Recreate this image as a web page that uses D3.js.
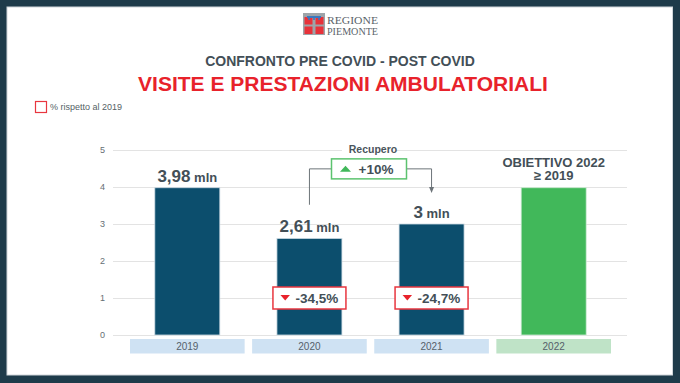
<!DOCTYPE html>
<html><head><meta charset="utf-8">
<script src="https://cdn.jsdelivr.net/npm/d3@7"></script>
<style>html,body{margin:0;padding:0;background:#1e3b4a;}svg{display:block;font-family:"Liberation Sans",Arial,sans-serif;}</style>
</head><body>
<svg id="c" width="680" height="383"></svg>
<script>
const categories = ["2019", "2020", "2021", "2022"];
const values = [3.98, 2.61, 3.0, 3.98];
const valueLabels = ["3,98", "2,61", "3", null];
const pctLabels = [null, "-34,5%", "-24,7%", null];
const yTicks = [0, 1, 2, 3, 4, 5];
const recoveryLabel = "+10%";
const targetLabel = ["OBIETTIVO 2022", "≥ 2019"];

const svg = d3.select("#c");
const gray = "#434f57";
svg.append("rect").attr("width",680).attr("height",383).attr("fill","#1e3b4a");
svg.append("rect").attr("x",7).attr("y",7).attr("width",665.5).attr("height",368).attr("fill","#fff").attr("stroke","#d0d6da").attr("stroke-width",1);

// logo
const lg = svg.append("g").attr("transform","translate(303,13)");
lg.append("rect").attr("width",22).attr("height",22).attr("fill","#9ea4a9");
[[1.5,4],[12.5,4],[1.5,13.5],[12.5,13.5]].forEach(p=>lg.append("rect").attr("x",p[0]).attr("y",p[1]).attr("width",8).attr("height",7.5).attr("fill","#e8323a"));
lg.append("rect").attr("x",4).attr("y",3).attr("width",14).attr("height",2).attr("fill","#3a78c0");
[6,11,16].forEach(x=>lg.append("rect").attr("x",x-0.8).attr("y",4.5).attr("width",1.6).attr("height",2.5).attr("fill","#3a78c0"));
svg.append("text").attr("x",327).attr("y",23.6).attr("font-family","Liberation Serif,serif").attr("font-size",10.4).attr("fill","#5a636a").attr("textLength",51).attr("lengthAdjust","spacingAndGlyphs").text("REGIONE");
svg.append("text").attr("x",327).attr("y",35.2).attr("font-family","Liberation Serif,serif").attr("font-size",10.4).attr("fill","#5a636a").attr("textLength",51).attr("lengthAdjust","spacingAndGlyphs").text("PIEMONTE");

// titles
svg.append("text").attr("x",340).attr("y",66).attr("text-anchor","middle").attr("font-weight","bold").attr("font-size",14).attr("fill",gray).text("CONFRONTO PRE COVID - POST COVID");
svg.append("text").attr("x",343).attr("y",91).attr("text-anchor","middle").attr("font-weight","bold").attr("font-size",21).attr("fill","#e8222b").text("VISITE E PRESTAZIONI AMBULATORIALI");

// legend
svg.append("rect").attr("x",35.5).attr("y",101.5).attr("width",11).attr("height",11).attr("fill","none").attr("stroke","#e8363f").attr("stroke-width",1.2);
svg.append("text").attr("x",50).attr("y",110).attr("font-size",9).attr("fill","#555f66").text("% rispetto al 2019");

// scales
const y = d3.scaleLinear().domain([0,5]).range([335,150]);
const x = d3.scaleBand().domain(categories).range([130,611]).paddingInner(0.0612).paddingOuter(0);
const cx = c => x(c) + x.bandwidth()/2;
const barW = 65;

// grid + axis
const ax = svg.append("g").attr("transform","translate(113,0)")
  .call(d3.axisLeft(y).tickValues(yTicks).tickSize(-514).tickPadding(8).tickFormat(d3.format("d")));
ax.select(".domain").remove();
ax.selectAll(".tick line").attr("stroke","#e3e3e3").attr("stroke-width",1);
ax.selectAll(".tick text").attr("font-size",9).attr("fill","#666e74").attr("font-family","Liberation Sans,Arial,sans-serif");

// category boxes
svg.append("g").selectAll("rect").data(categories).join("rect")
  .attr("x",d=>x(d)).attr("y",339).attr("width",x.bandwidth()).attr("height",14.5)
  .attr("fill",(d,i)=>i===3?"#bfe3c7":"#cfe2f3");
svg.append("g").selectAll("text").data(categories).join("text")
  .attr("x",d=>cx(d)).attr("y",350).attr("text-anchor","middle").attr("font-size",10).attr("fill","#55606a").text(d=>d);

// bars
svg.append("g").selectAll("rect").data(values).join("rect")
  .attr("x",(d,i)=>cx(categories[i])-barW/2).attr("y",d=>y(d)).attr("width",barW).attr("height",d=>y(0)-y(d))
  .attr("fill",(d,i)=>i===3?"#41b85a":"#0c4e6d").attr("stroke",(d,i)=>i===3?"#cdebd4":"#cddbe4").attr("stroke-width",0.8);

// value labels
values.forEach((v,i)=>{
  if(!valueLabels[i]) return;
  const t = svg.append("text").attr("x",cx(categories[i])).attr("y",y(v)-6).attr("text-anchor","middle").attr("font-weight","bold").attr("fill",gray);
  t.append("tspan").attr("font-size",17).text(valueLabels[i]);
  t.append("tspan").attr("font-size",13).text(" mln");
});

// target label
const tl = svg.append("text").attr("x",cx(categories[3])).attr("text-anchor","middle").attr("font-weight","bold").attr("font-size",13).attr("fill",gray);
tl.append("tspan").attr("x",cx(categories[3])).attr("y",y(values[3])-21).text(targetLabel[0]);
tl.append("tspan").attr("x",cx(categories[3])).attr("y",y(values[3])-7.5).text(targetLabel[1]);

// pct boxes
pctLabels.forEach((p,i)=>{
  if(!p) return;
  const c = cx(categories[i]), yc = y(1);
  const g = svg.append("g");
  g.append("rect").attr("x",c-36.5).attr("y",yc-11).attr("width",73).attr("height",22).attr("fill","#fff").attr("stroke","#e8363f").attr("stroke-width",1.5);
  g.append("path").attr("d",`M${c-29},${yc-3} L${c-19.5},${yc-3} L${c-24.25},${yc+2.5}Z`).attr("fill","#e8222b");
  g.append("text").attr("x",c-14).attr("y",yc+4.7).attr("font-weight","bold").attr("font-size",13.5).attr("fill",gray).text(p);
});

// recovery connector
const c1 = cx(categories[1]), c2 = cx(categories[2]);
const mid = (c1+c2)/2 - 1.5;
const ry = y(4.49);
const lineCol = "#6d7479";
svg.append("path").attr("d",`M${c1},${y(3.52)} V${ry} H${mid-37}`).attr("fill","none").attr("stroke",lineCol).attr("stroke-width",1);
svg.append("path").attr("d",`M${mid+37},${ry} H${c2} V${y(3.97)}`).attr("fill","none").attr("stroke",lineCol).attr("stroke-width",1);
svg.append("path").attr("d",`M${c2-2.5},${y(3.97)-1} L${c2+2.5},${y(3.97)-1} L${c2},${y(3.97)+5}Z`).attr("fill",lineCol);
svg.append("rect").attr("x",mid-37.5).attr("y",ry-10).attr("width",75).attr("height",20).attr("fill","#fff").attr("stroke","#5cc36f").attr("stroke-width",1.5);
svg.append("path").attr("d",`M${mid-29},${ry+3} L${mid-18},${ry+3} L${mid-23.5},${ry-3}Z`).attr("fill","#41b85a");
svg.append("text").attr("x",mid-10.5).attr("y",ry+5).attr("font-weight","bold").attr("font-size",13.5).attr("fill",gray).text(recoveryLabel);
svg.append("rect").attr("x",mid-27).attr("y",y(5)-5).attr("width",54).attr("height",10).attr("fill","#fff");
svg.append("text").attr("x",mid+4).attr("y",y(4.93)).attr("text-anchor","middle").attr("font-weight","bold").attr("font-size",10.5).attr("fill","#4a555c").text("Recupero");
</script>
</body></html>
